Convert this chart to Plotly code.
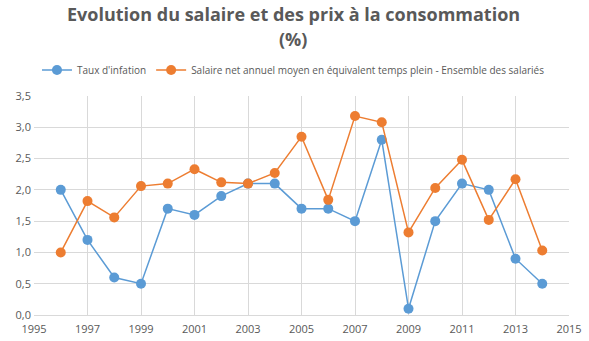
import plotly.graph_objects as go

years = list(range(1996, 2015))
inflation = [2.0, 1.2, 0.6, 0.5, 1.7, 1.6, 1.9, 2.1, 2.1, 1.7, 1.7, 1.5, 2.8, 0.1, 1.5, 2.1, 2.0, 0.9, 0.5]
salaire = [1.0, 1.82, 1.56, 2.06, 2.1, 2.33, 2.12, 2.1, 2.27, 2.85, 1.84, 3.18, 3.08, 1.32, 2.03, 2.48, 1.52, 2.17, 1.03]
names = ["Taux d'infation", "Salaire net annuel moyen en équivalent temps plein - Ensemble des salariés"]
colors = ["#5B9BD5", "#ED7D31"]
title_lines = ["Evolution du salaire et des prix à la consommation", "(%)"]

fig = go.Figure()
for vals, name, c in zip([inflation, salaire], names, colors):
    fig.add_trace(go.Scatter(x=years, y=vals, name=name, mode="lines+markers",
                             line=dict(color=c, width=1.5),
                             marker=dict(color=c, size=10)))

H = 219
for i, (line, ypx) in enumerate(zip(title_lines, [14, 39])):
    fig.add_annotation(text="<b>" + line + "</b>", xref="paper", yref="paper",
                       x=0.485, xanchor="center", y=1 + (96 - ypx) / H, yanchor="middle",
                       showarrow=False, font=dict(family="Open Sans", size=18, color="#595959"))

fig.update_layout(
    width=589, height=341,
    margin=dict(l=34, r=20, t=96, b=26),
    paper_bgcolor="white", plot_bgcolor="white",
    separators=", ",
    font=dict(family="Open Sans", color="#595959", size=11),
    legend=dict(orientation="h", x=0.485, xanchor="center", y=1 + (96 - 70) / H, yanchor="middle",
                font=dict(size=10, color="#595959"), itemwidth=30, tracegroupgap=0),
    xaxis=dict(range=[1995, 2015], dtick=2, tick0=1995, showgrid=True, gridcolor="#D9D9D9",
               zeroline=False, showline=True, linecolor="#D9D9D9", ticks="",
               ticklabelstandoff=4, automargin=False,
               tickfont=dict(size=11, color="#595959")),
    yaxis=dict(range=[0, 3.5], dtick=0.5, tickformat=".1f", showgrid=True, gridcolor="#D9D9D9",
               zeroline=False, showline=False, ticks="", ticklabelstandoff=2, automargin=False,
               tickfont=dict(size=11, color="#595959")),
)
fig.write_html("out.html")
